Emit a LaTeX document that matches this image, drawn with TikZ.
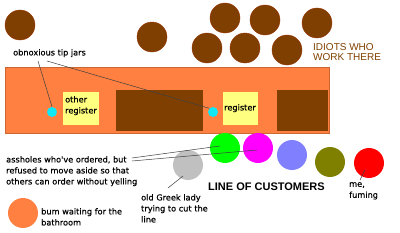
\documentclass[tikz,border=0pt]{standalone}
\usepackage{fontspec}
\setmainfont{Liberation Sans}
\newfontfamily\labfont[FakeBold=0.4]{DejaVu Sans}
\definecolor{workbrown}{HTML}{7F3F00}
\definecolor{counter}{HTML}{FF8040}
\definecolor{regyellow}{HTML}{FFFF80}
\definecolor{jarcyan}{HTML}{10E8F8}
\definecolor{cgreen}{HTML}{00FF00}
\definecolor{cmagenta}{HTML}{FF00FF}
\definecolor{cblue}{HTML}{8080FF}
\definecolor{colive}{HTML}{808000}
\definecolor{cred}{HTML}{FF0000}
\definecolor{cgrey}{HTML}{C0C0C0}
\definecolor{idtext}{HTML}{804000}
\definecolor{leader}{HTML}{404040}
\begin{document}
\begin{tikzpicture}[x=1pt,y=-1pt,
  worker/.style={circle,fill=workbrown,draw=workbrown!80!red,line width=0.4pt,minimum size=30pt,inner sep=0pt},
  person/.style={circle,minimum size=30pt,inner sep=0pt},
  jar/.style={circle,fill=jarcyan,minimum size=10pt,inner sep=0pt},
  regbox/.style={fill=regyellow},
  lab/.style={font=\labfont\fontsize{8.2}{11}\selectfont,align=left,anchor=north west,inner sep=0pt},
  leadline/.style={draw=leader,line width=0.5pt}]
\useasboundingbox[fill=white] (0,0) rectangle (400,233);
% workers
\node[worker] (w1) at (20,25) {};
\node[worker] (w2) at (152,37) {};
\node[worker] (w3) at (225,18) {};
\node[worker] (w4) at (265,20) {};
\node[worker] (w5) at (317,23) {};
\node[worker] (w6) at (207,48) {};
\node[worker] (w7) at (245,48) {};
\node[worker] (w8) at (287,50) {};
\node[anchor=north west,inner sep=0pt,text=idtext,align=left,font=\fontsize{10}{10.5}\selectfont] (idiots) at (313,43) {IDIOTS WHO\\WORK THERE};
% counter
\filldraw[fill=counter,draw=counter!80!black,line width=0.4pt] (5,67) rectangle (329,133);
\fill[workbrown] (116,90) rectangle (203,131);
\fill[workbrown] (277,90) rectangle (328,131);
\fill[regyellow] (63,92) rectangle (99,125);
\fill[regyellow] (223,92) rectangle (258,125);
\node[lab] (oreg) at (65,96) {other\\register};
\node[lab] (reg) at (224,104) {register};
\node[jar] (jar1) at (52,112) {};
\node[jar] (jar2) at (213,112) {};
\node[lab] (tipjars) at (13,49) {obnoxious tip jars};
\coordinate (tj1) at (38,61);
\coordinate (tj2) at (47,61);
\draw[leadline] (tj1) -- (jar1.north);
\draw[leadline] (tj2) -- (jar2.north west);
% customers
\node[person,fill=cgrey] (greek) at (188,165) {};
\node[person,fill=cgreen] (green) at (225,148) {};
\node[person,fill=cmagenta] (mag) at (258,148) {};
\node[person,fill=cblue] (blue) at (292,155) {};
\node[person,fill=colive] (olive) at (330,162) {};
\node[person,fill=cred] (me) at (369,163) {};
\node[person,fill=counter] (bum) at (23,213) {};
\node[lab] (assholes) at (6,156) {assholes who've ordered, but\\refused to move aside so that\\others can order without yelling};
\coordinate (as1) at (132,158);
\coordinate (as2) at (132,161);
\coordinate (ge) at (220,146);
\coordinate (me1) at (257,150);
\draw[leadline] (as1) -- (ge);
\draw[leadline] (as2) -- (me1);
\node[lab] (oldgreek) at (141,194) {old Greek lady\\trying to cut the\\line};
\coordinate (gk) at (168,188);
\coordinate (gk2) at (183,176);
\draw[leadline] (gk) -- (gk2);
\node[anchor=base west,inner sep=0pt,font=\bfseries\fontsize{11}{11}\selectfont] (line) at (208,190) {LINE OF CUSTOMERS};
\node[lab] (fuming) at (349,182) {me,\\fuming};
\coordinate (mf) at (360,180);
\coordinate (mc) at (365,170);
\draw[leadline] (mf) -- (mc);
\node[lab] (bumtext) at (41,208) {bum waiting for the\\bathroom};
\end{tikzpicture}
\end{document}
